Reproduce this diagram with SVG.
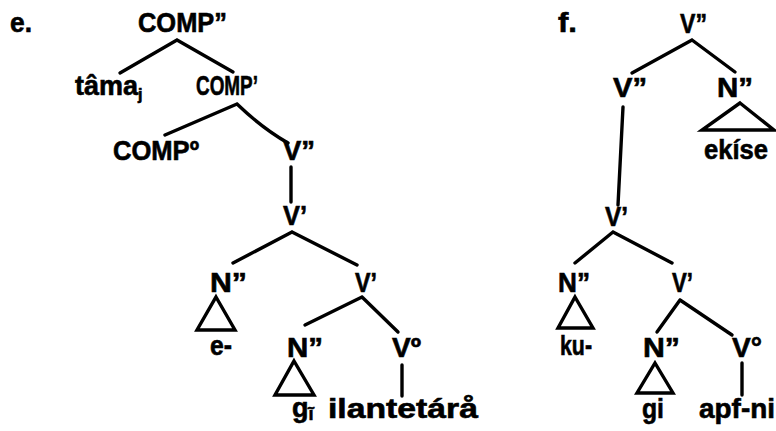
<svg xmlns="http://www.w3.org/2000/svg" width="776" height="431" viewBox="0 0 776 431">
<style>
text{font-family:"Liberation Sans",Arial,sans-serif;font-weight:bold;font-size:27px;fill:#000;stroke:#000;stroke-width:0.6}
.e{stroke:#000;stroke-width:3.4;fill:none;stroke-linecap:round}
.t{stroke:#000;stroke-width:3.4;fill:none;stroke-linejoin:miter}
</style>
<rect width="776" height="431" fill="#fff"/>
<text x="10" y="32" textLength="22" lengthAdjust="spacingAndGlyphs">e.</text>
<text x="558" y="32" textLength="19" lengthAdjust="spacingAndGlyphs">f.</text>
<g id="connectors">
<path class="e" d="M177,40L120,73M177,40L233,72"/>
<path class="e" d="M237,104L165,135M237,104Q262,128 288,143"/>
<path class="e" d="M291,167L291,202"/>
<path class="e" d="M292,232L233,263M292,232L357,265"/>
<path class="e" d="M362,297L305,325M362,297L398,332"/>
<path class="e" d="M402,365L402,396"/>
<path class="e" d="M692,40L632,73M692,40L735,72"/>
<path class="e" d="M623,107L618,205"/>
<path class="e" d="M613,232L575,263M613,232L672,263"/>
<path class="e" d="M680,300L657,332M680,300L732,335"/>
<path class="e" d="M742,363L742,395"/>
</g>
<g id="e-comp2"><text x="138" y="32" textLength="89" lengthAdjust="spacingAndGlyphs">COMP”</text></g>
<g id="e-tama"><text x="75" y="95" font-size="23">tâma<tspan font-size="16" dy="5">j</tspan></text></g>
<g id="e-comp1"><text x="196" y="95" textLength="62" lengthAdjust="spacingAndGlyphs">COMP’</text></g>
<g id="e-comp0"><text x="113" y="160" textLength="86" lengthAdjust="spacingAndGlyphs">COMPº</text></g>
<g id="e-v2"><text x="283" y="160" textLength="32" lengthAdjust="spacingAndGlyphs">V”</text></g>
<g id="e-v1"><text x="283" y="225" textLength="24" lengthAdjust="spacingAndGlyphs">V’</text></g>
<g id="e-n2a"><text x="210" y="292" textLength="37" lengthAdjust="spacingAndGlyphs">N”</text><path class="t" d="M216,297L235,330L197,330Z"/><text x="210" y="355" textLength="22" lengthAdjust="spacingAndGlyphs">e-</text></g>
<g id="e-v1b"><text x="355" y="292" textLength="22" lengthAdjust="spacingAndGlyphs">V’</text></g>
<g id="e-n2b"><text x="287" y="357" textLength="36" lengthAdjust="spacingAndGlyphs">N”</text><path class="t" d="M294,361L314,395L275,395Z"/><text x="292" y="417">g<tspan font-size="18" dy="3">ĩ</tspan></text></g>
<g id="e-v0"><text x="392" y="357" textLength="29" lengthAdjust="spacingAndGlyphs">Vº</text><text x="328" y="418" textLength="150" lengthAdjust="spacingAndGlyphs">ilantetárå</text></g>
<g id="f-v2top"><text x="680" y="33" textLength="27" lengthAdjust="spacingAndGlyphs">V”</text></g>
<g id="f-v2"><text x="613" y="97" textLength="34" lengthAdjust="spacingAndGlyphs">V”</text></g>
<g id="f-n2top"><text x="717" y="97" textLength="36" lengthAdjust="spacingAndGlyphs">N”</text><path class="t" d="M740,103L774,130L702,130Z"/><text x="704" y="159" textLength="64" lengthAdjust="spacingAndGlyphs">ekíse</text></g>
<g id="f-v1"><text x="605" y="226" textLength="23" lengthAdjust="spacingAndGlyphs">V’</text></g>
<g id="f-n2a"><text x="558" y="292" textLength="32" lengthAdjust="spacingAndGlyphs">N”</text><path class="t" d="M575,297L593,328L558,328Z"/><text x="560" y="355" textLength="32" lengthAdjust="spacingAndGlyphs">ku-</text></g>
<g id="f-v1b"><text x="672" y="292" textLength="21" lengthAdjust="spacingAndGlyphs">V’</text></g>
<g id="f-n2b"><text x="643" y="357" textLength="37" lengthAdjust="spacingAndGlyphs">N”</text><path class="t" d="M655,363L673,393L637,393Z"/><text x="642" y="418" textLength="22" lengthAdjust="spacingAndGlyphs">gi</text></g>
<g id="f-v0"><text x="732" y="357" textLength="30" lengthAdjust="spacingAndGlyphs">V°</text><text x="699" y="418" textLength="76" lengthAdjust="spacingAndGlyphs">apf-ni</text></g>
</svg>
